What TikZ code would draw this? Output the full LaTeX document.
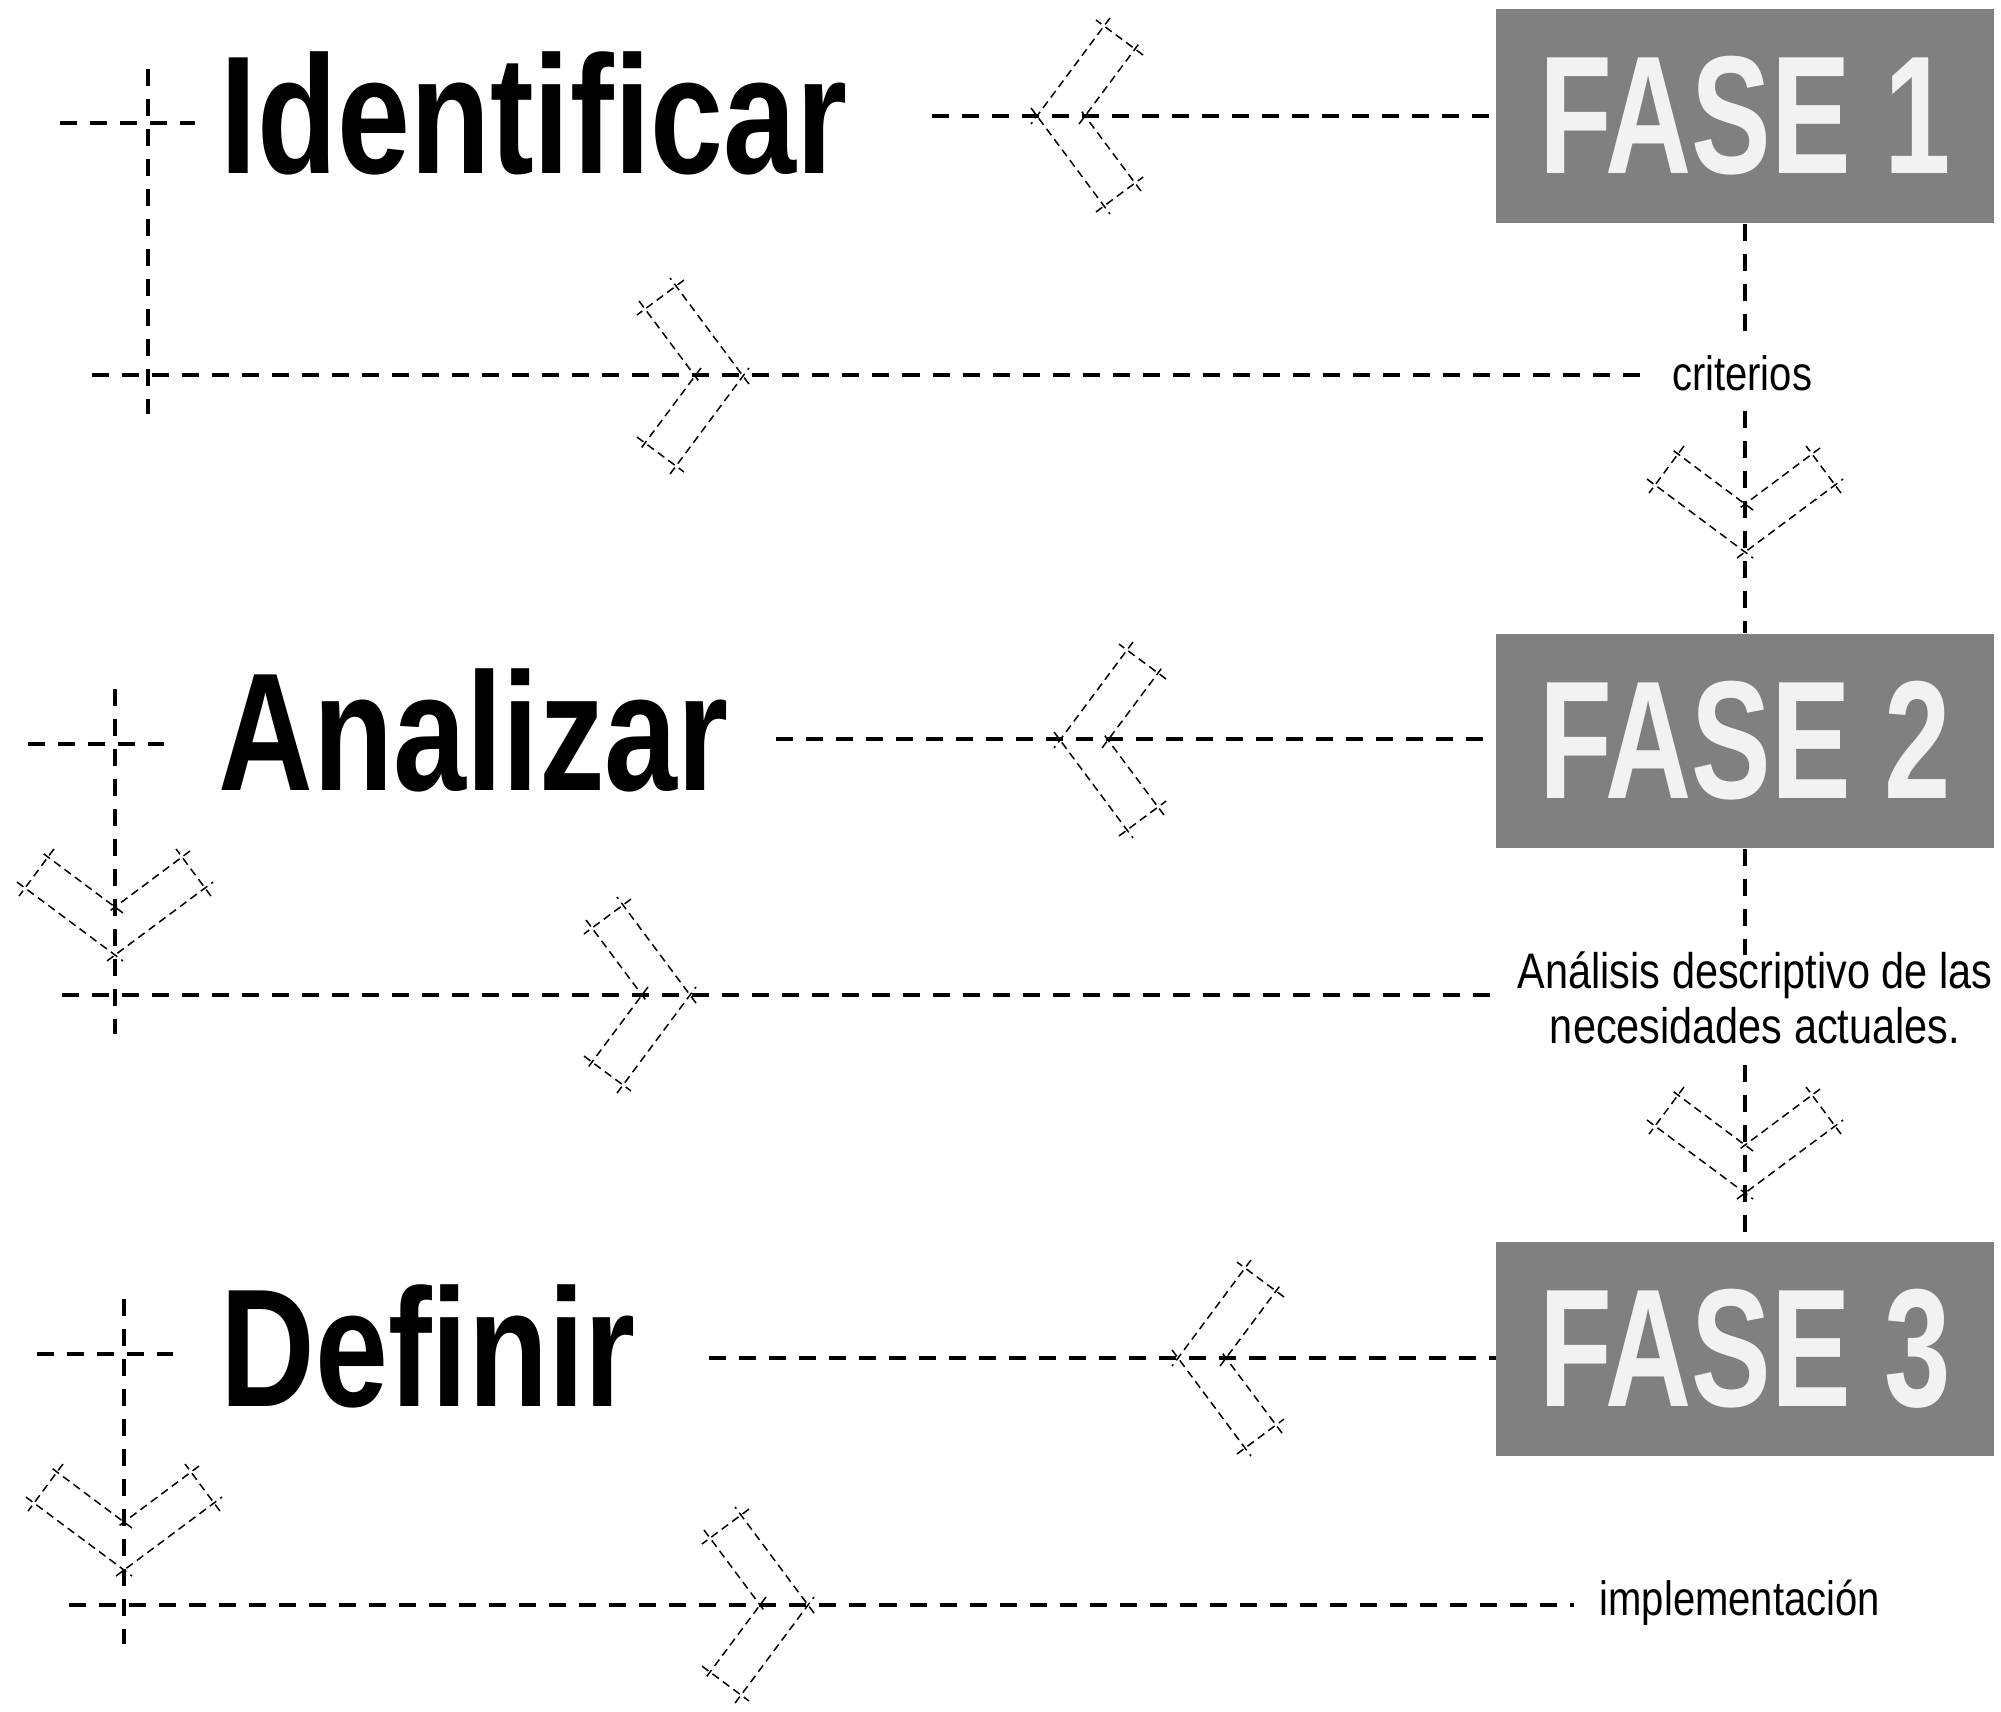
\documentclass[tikz,border=0pt]{standalone}
\usepackage{fontspec}
\newfontfamily\headfont{Liberation Sans}[FakeStretch=0.78]
\newfontfamily\fasefont{Liberation Sans}[FakeStretch=0.71]
\newfontfamily\notefont{Liberation Sans}[FakeStretch=0.83]
\usetikzlibrary{positioning}
\definecolor{fasegray}{HTML}{808080}
\definecolor{fasetext}{HTML}{F2F2F2}

\begin{document}
\begin{tikzpicture}
	[
	x = 0.01cm, y = -0.01cm,
	link/.style = {line width=0.045cm, dash pattern=on 0.17cm off 0.13cm},
	chev/.style = {line width=0.015cm, dash pattern=on 0.08cm off 0.05cm, shorten <=-0.1cm, shorten >=-0.1cm},
	head/.style = {inner sep=0, anchor=base west, font=\headfont\bfseries\fontsize{47.8}{50}\selectfont},
	fase/.style = {fill=fasegray, text=fasetext, minimum width=4.97cm, minimum height=2.14cm, inner sep=0, font=\fasefont\bfseries\fontsize{47.8}{50}\selectfont},
	note/.style = {inner xsep=0.25cm, inner ysep=0.2cm, font=\notefont\fontsize{13.7}{16}\selectfont}
	]
	\useasboundingbox (0,0) rectangle (2001,1711);

	\node[fase] (f1) at (1745,116) {FASE 1};
	\node[fase] (f2) at (1745,741) {FASE 2};
	\node[fase] (f3) at (1745,1349) {FASE 3};

	\node[head] (ident) at (220,173) {Identificar};
	\node[head] (anal) at (218,790) {Analizar};
	\node[head] (defin) at (220,1406) {Definir};

	\node[note, anchor=base] (crit) at (1742,390) {criterios};
	\node[note, align=center, font=\notefont\fontsize{14.2}{15.65}\selectfont] (desc) at (1755,998) {Análisis descriptivo de las\\necesidades actuales.};
	\node[note, anchor=base west] (impl) at (1574,1615) {implementación};

	% lines from the phases
	\coordinate (r1) at (932,116);
	\coordinate (r2) at (776,739);
	\coordinate (r3) at (709,1358);
	\draw[link] (r1) -- (r1 -| f1.west);
	\draw[link] (r2) -- (r2 -| f2.west);
	\draw[link] (r3) -- (r3 -| f3.west);

	\draw[link] (f1.south) -- (f1.south |- crit.north);
	\draw[link] (f1.south |- crit.south) -- (f2.north);
	\draw[link, shorten >=-0.24cm] (f2.south) -- (f2.south |- desc.north);
	\draw[link] (f2.south |- desc.south) -- (f3.north);

	% crosses on the left
	\coordinate (h1) at (60,123);
	\coordinate (h2) at (28,744);
	\coordinate (h3) at (37,1354);
	\draw[link] (h1) -- ++(135,0);
	\draw[link] (h2) -- ++(136,0);
	\draw[link] (h3) -- ++(136,0);

	\coordinate (v1) at (148,69);
	\coordinate (v2) at (115,689);
	\coordinate (v3) at (124,1299);
	\draw[link] (v1) -- ++(0,345);
	\draw[link] (v2) -- ++(0,345);
	\draw[link] (v3) -- ++(0,345);

	\coordinate (b1) at (92,375);
	\coordinate (b2) at (62,995);
	\coordinate (b3) at (69,1605);
	\draw[link] (b1) -- (b1 -| crit.west);
	\draw[link] (b2) -- (b2 -| desc.west);
	\draw[link] (b3) -- (b3 -| impl.west);

	% chevrons
	\foreach \cx/\cy/\rot in {1037/116/180, 743/376/0, 1745/552/-90, 1060/740/180, 115/955/-90, 690/995/0, 1745/1193/-90, 1178/1358/180, 124/1570/-90, 808/1605/0}
	{
		\begin{scope}[shift={(\cx,\cy)}, rotate=\rot]
			\draw[chev] (0,0) -- (-67,-90);
			\draw[chev] (-67,-90) -- (-98,-67);
			\draw[chev] (-98,-67) -- (-48,0);
			\draw[chev] (-48,0) -- (-98,67);
			\draw[chev] (-98,67) -- (-67,90);
			\draw[chev] (-67,90) -- (0,0);
		\end{scope}
	}
\end{tikzpicture}
\end{document}
